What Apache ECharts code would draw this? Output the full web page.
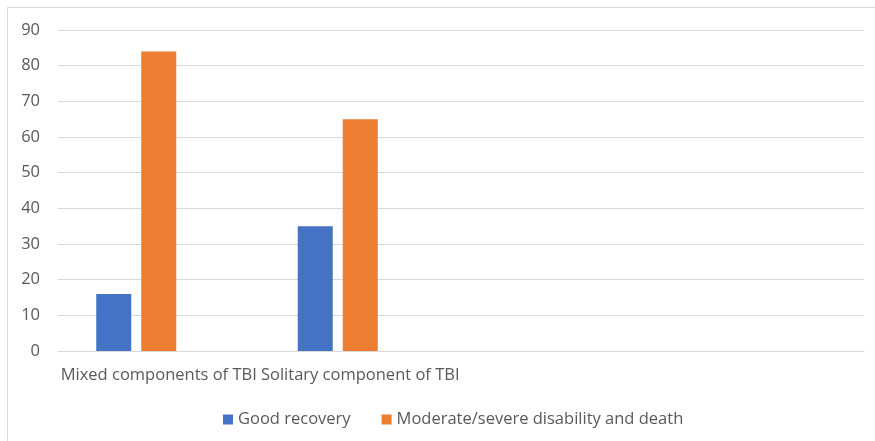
<!DOCTYPE html>
<html>
<head>
<meta charset="utf-8">
<script src="https://cdn.jsdelivr.net/npm/echarts@6/dist/echarts.min.js"></script>
<style>
  html, body { margin: 0; padding: 0; background: #fff; }
  #chart { width: 875px; height: 441px; }
</style>
</head>
<body>
<div id="chart"></div>
<script>
// Outcome by TBI component type (percent)
const categories = ['Mixed components of TBI', 'Solitary component of TBI', '', ''];
const goodRecovery = [16, 35, '-', '-'];
const disabilityDeath = [84, 65, '-', '-'];
const emptySeries = ['-', '-', '-', '-'];
const yTicks = { min: 0, max: 90, interval: 10 };

const FONT = '"Open Sans", Lato, sans-serif';
const TEXT = '#595959';
const GRID = '#d9d9d9';
const SIZE = 16.5;

const chart = echarts.init(document.getElementById('chart'), null, { renderer: 'canvas' });

chart.setOption({
  backgroundColor: '#fff',
  animation: false,
  textStyle: { fontFamily: FONT },
  graphic: [
    {
      type: 'rect',
      shape: { x: 7.5, y: 7.5, width: 900, height: 500 },
      style: { fill: 'none', stroke: GRID, lineWidth: 1 },
      silent: true
    }
  ],
  grid: { left: 58, right: 11, top: 30, bottom: 90 },
  legend: {
    data: ['Good recovery', 'Moderate/severe disability and death'],
    left: 218,
    top: 406,
    itemWidth: 10,
    itemHeight: 10,
    itemGap: 31,
    icon: 'rect',
    textStyle: { color: TEXT, fontSize: SIZE, fontFamily: FONT }
  },
  xAxis: {
    type: 'category',
    data: categories,
    axisLine: { lineStyle: { color: GRID, width: 1 } },
    axisTick: { show: false },
    axisLabel: { interval: 0, color: TEXT, fontSize: SIZE, fontFamily: FONT, margin: 16 }
  },
  yAxis: {
    type: 'value',
    min: yTicks.min,
    max: yTicks.max,
    interval: yTicks.interval,
    axisLine: { show: false },
    axisTick: { show: false },
    axisLabel: { color: TEXT, fontSize: SIZE, fontFamily: FONT, margin: 18 },
    splitLine: { lineStyle: { color: GRID, width: 1 } }
  },
  series: [
    {
      name: 'Good recovery',
      type: 'bar',
      data: goodRecovery,
      barWidth: 35,
      barGap: '28.6%',
      itemStyle: { color: '#4472C4' }
    },
    {
      name: 'Moderate/severe disability and death',
      type: 'bar',
      data: disabilityDeath,
      barWidth: 35,
      barGap: '28.6%',
      itemStyle: { color: '#ED7D31' }
    },
    {
      name: 'Series 3',
      type: 'bar',
      data: emptySeries,
      barWidth: 35,
      barGap: '28.6%',
      itemStyle: { color: '#A5A5A5' }
    }
  ]
});
</script>
</body>
</html>
